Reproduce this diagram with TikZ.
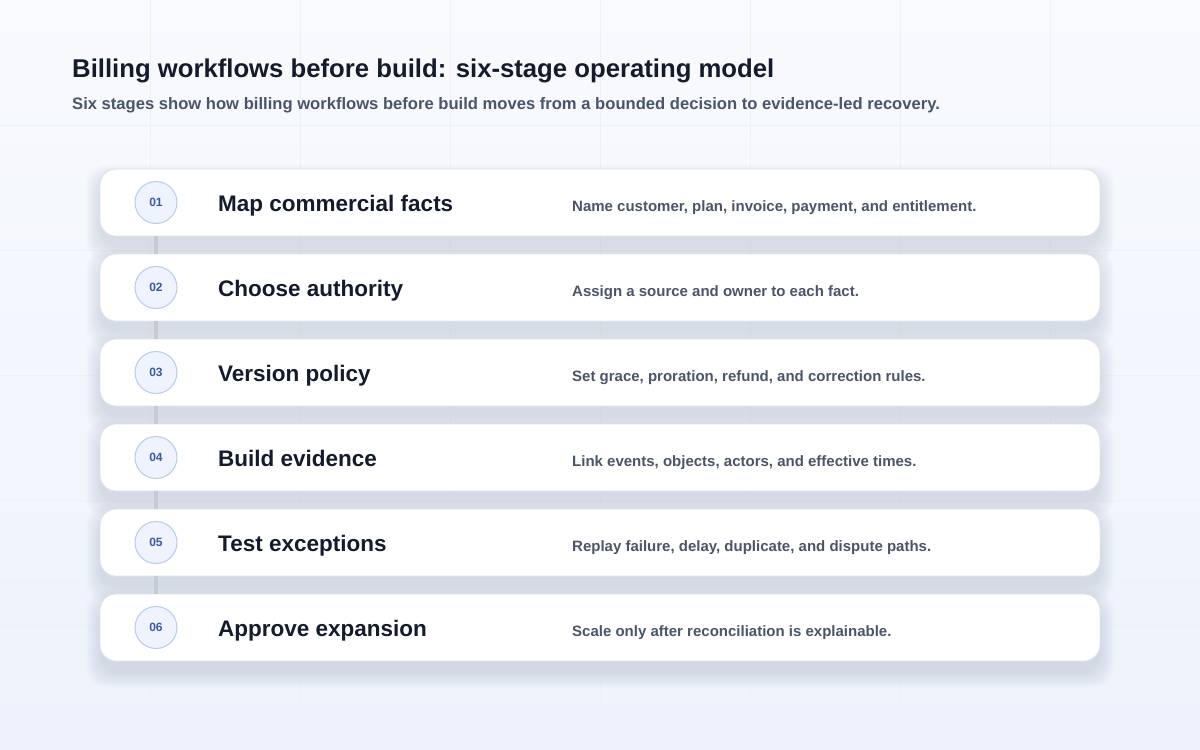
\documentclass[tikz,border=0pt]{standalone}
\usepackage{fontspec}
\setmainfont{Liberation Sans}
\definecolor{bgA}{HTML}{F8FAFD}
\definecolor{bgB}{HTML}{EDF2FC}
\definecolor{gridc}{HTML}{EDF0F5}
\definecolor{titlec}{HTML}{141B2D}
\definecolor{subc}{HTML}{4B5568}
\definecolor{numc}{HTML}{3A5BA0}
\definecolor{circf}{HTML}{EEF3FD}
\definecolor{circd}{HTML}{B9CBEA}
\definecolor{linkc}{HTML}{C6CAD2}
\definecolor{cardd}{HTML}{DCE1EA}
\definecolor{shadc}{HTML}{8C97B0}
\tikzset{
  card/.style={draw=cardd, line width=0.8pt, fill=white, rounded corners=16pt,
    minimum width=1000pt, minimum height=67pt, inner sep=0pt},
  badge/.style={circle, draw=circd, line width=1pt, fill=circf, minimum size=42pt, inner sep=0pt,
    font=\fontsize{12}{12}\selectfont\bfseries, text=numc},
  stitle/.style={anchor=base west, font=\fontsize{22.5}{22.5}\selectfont\bfseries, text=titlec, inner sep=0pt},
  sdesc/.style={anchor=base west, font=\fontsize{15}{15}\selectfont\bfseries, text=subc, inner sep=0pt},
  link/.style={draw=linkc, line width=4pt},
  shadowlayer/.style={fill=shadc, fill opacity=0.035, rounded corners=20pt}
}
\begin{document}
\begin{tikzpicture}[x=1pt,y=-1pt]
\useasboundingbox (0,0) rectangle (1200,750);
\shade[shading=axis, shading angle=135, top color=bgA, bottom color=bgB] (0,0) rectangle (1200,750);
\foreach \gx in {150,300,...,1050} \draw[gridc, line width=0.8pt] (\gx,0) -- (\gx,750);
\foreach \gy in {125,250,...,625} \draw[gridc, line width=0.8pt] (0,\gy) -- (1200,\gy);

\node[anchor=base west, inner sep=0pt, font=\fontsize{25.7}{26}\selectfont\bfseries, text=titlec] (title) at (72,77) {Billing workflows before build: six-stage operating model};
\node[anchor=base west, inner sep=0pt, font=\fontsize{16.6}{17}\selectfont\bfseries, text=subc] (subtitle) at (72,109) {Six stages show how billing workflows before build moves from a bounded decision to evidence-led recovery.};

% soft shadows
\foreach \i in {1,...,6} {
  \foreach \e in {2,4,...,16} {
    \fill[shadowlayer] ({100-\e+2},{169+85*(\i-1)+12-\e}) rectangle ({1100+\e-2},{236+85*(\i-1)+10+\e});
  }
}

\foreach \i in {1,...,6} \coordinate (p\i) at (156,{202.5+85*(\i-1)});

\foreach \i/\t/\d in {
 1/Map commercial facts/{Name customer, plan, invoice, payment, and entitlement.},
 2/Choose authority/Assign a source and owner to each fact.,
 3/Version policy/{Set grace, proration, refund, and correction rules.},
 4/Build evidence/{Link events, objects, actors, and effective times.},
 5/Test exceptions/{Replay failure, delay, duplicate, and dispute paths.},
 6/Approve expansion/Scale only after reconciliation is explainable.}{
  \node[card] (card\i) at (600,{202.5+85*(\i-1)}) {};
  \node[badge] (b\i) at (p\i) {0\i};
  \node[stitle] (t\i) at (218,{211+85*(\i-1)}) {\t};
  \node[sdesc] (d\i) at (572,{211.5+85*(\i-1)}) {\d};
}
\foreach \i/\j in {1/2,2/3,3/4,4/5,5/6} \draw[link] (card\i.south -| b\i) -- (card\j.north -| b\j);
\end{tikzpicture}
\end{document}
